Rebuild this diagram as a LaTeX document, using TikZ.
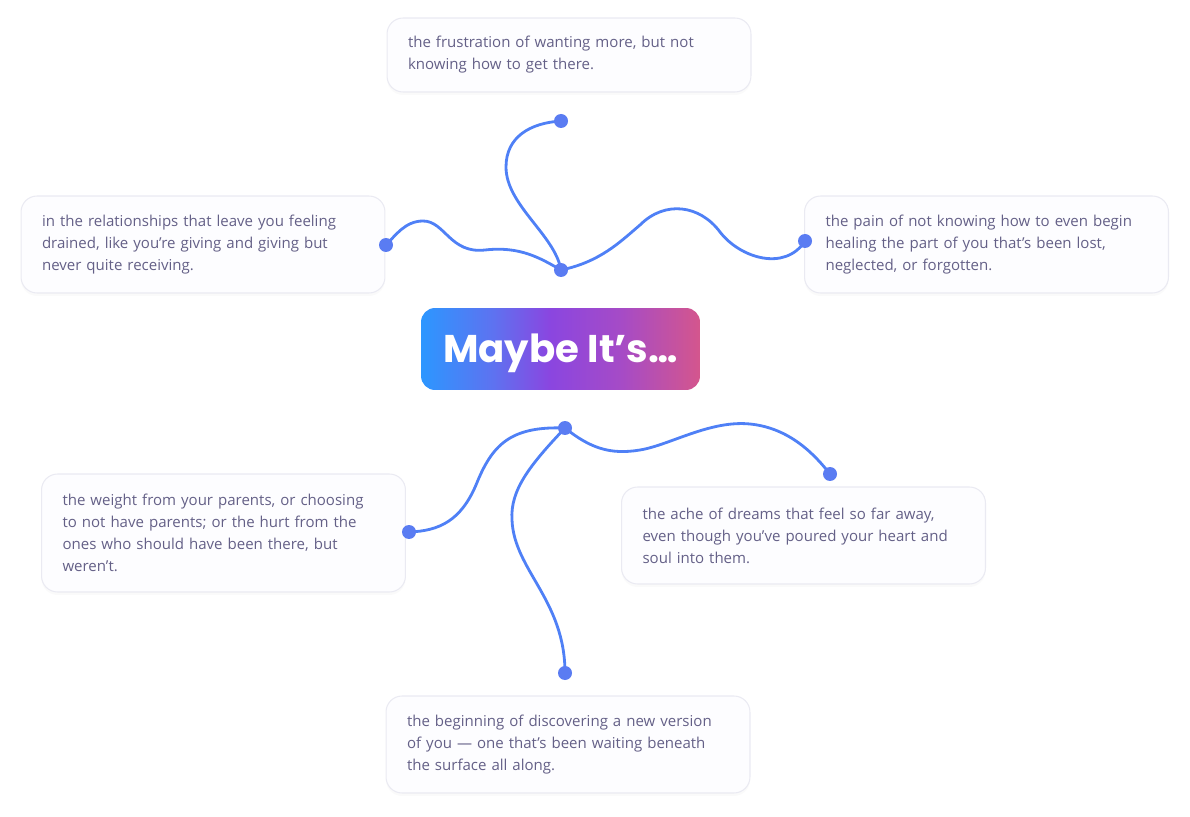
\documentclass[tikz,border=0pt]{standalone}
\usepackage{fontspec}
\setmainfont{Open Sans}
\newfontfamily\titlefont{Poppins}
\usetikzlibrary{backgrounds,shadows}
\definecolor{inkgray}{HTML}{646087}
\definecolor{boxline}{HTML}{EAEAF2}
\definecolor{boxfill}{HTML}{FDFDFF}
\definecolor{wire}{HTML}{4F80F6}
\definecolor{dotblue}{HTML}{5A7CF2}
\definecolor{gradA}{HTML}{2C97FF}
\definecolor{gradB}{HTML}{5E72F0}
\definecolor{gradC}{HTML}{8A46E0}
\definecolor{gradD}{HTML}{A64BC6}
\definecolor{gradE}{HTML}{D4568D}
\pgfdeclarehorizontalshading{maybeshade}{100bp}{color(0bp)=(gradA); color(25bp)=(gradA);
  color(38bp)=(gradB); color(48bp)=(gradC); color(61bp)=(gradD); color(75bp)=(gradE); color(100bp)=(gradE)}
\tikzset{
  textbox/.style={draw=boxline,fill=boxfill,rounded corners=0.32cm,line width=0.6pt,
    text width=6.44cm,inner xsep=0.42cm,align=left,text=inkgray,
    font=\fontsize{8.55}{12.47}\selectfont,
    drop shadow={opacity=0.04,shadow xshift=0pt,shadow yshift=-0.06cm}},
  enddot/.style={circle,fill=dotblue,minimum size=0.28cm,inner sep=0pt},
  wirecurve/.style={draw=wire,line width=1.6pt},
  every picture/.style={line cap=round,line join=round}
}
\begin{document}
\begin{tikzpicture}[x=0.02cm,y=-0.02cm]
  \useasboundingbox (0,0) rectangle (1190,817);
  % centre label
  \node[rounded corners=0.28cm,shading=maybeshade,minimum width=5.58cm,minimum height=1.64cm,
        text height=15.5pt,text depth=0pt,
        text=white,font=\titlefont\bfseries\fontsize{22}{26}\selectfont] (maybe) at (560.5,349) {Maybe It’s…};

  % text boxes
  \node[textbox,minimum height=1.48cm] (top) at (569,55)
    {the frustration of wanting more, but not\\knowing how to get there.};
  \node[textbox,minimum height=1.94cm] (lft) at (203,244.5)
    {in the relationships that leave you feeling\\drained, like you’re giving and giving but\\never quite receiving.};
  \node[textbox,minimum height=1.94cm] (rgt) at (986.5,244.5)
    {the pain of not knowing how to even begin\\healing the part of you that’s been lost,\\neglected, or forgotten.};
  \node[textbox,minimum height=2.36cm] (bl) at (223.5,533)
    {the weight from your parents, or choosing\\to not have parents; or the hurt from the\\ones who should have been there, but\\weren’t.};
  \node[textbox,minimum height=1.94cm] (br) at (803.5,535.5)
    {the ache of dreams that feel so far away,\\even though you’ve poured your heart and\\soul into them.};
  \node[textbox,minimum height=1.94cm] (bot) at (568,744.5)
    {the beginning of discovering a new version\\of you — one that’s been waiting beneath\\the surface all along.};

  % dots
  \node[enddot] (hu) at (561,270) {};
  \node[enddot] (hd) at (565,428) {};
  \node[enddot] (du) at (561,121) {};
  \node[enddot] (dl) at (386,245) {};
  \node[enddot] (dr) at (805,241) {};
  \node[enddot] (dbl) at (409,532) {};
  \node[enddot] (dbr) at (830,474) {};
  \node[enddot] (db) at (565,673) {};

  % wavy connectors
  \begin{scope}[on background layer]
    \draw[wirecurve] (hu.center) .. controls (555,235) and (506,205) .. (506,167)
                     .. controls (506,137) and (530,123) .. (du.center);
    \draw[wirecurve] (hu.center) .. controls (540,258) and (520,246) .. (485,250)
                     .. controls (450,254) and (445,221) .. (423,221)
                     .. controls (405,221) and (395,236) .. (dl.center);
    \draw[wirecurve] (hu.center) .. controls (600,262) and (620,242) .. (640,225)
                     .. controls (665,200) and (700,205) .. (720,232)
                     .. controls (740,258) and (785,272) .. (dr.center);
    \draw[wirecurve] (hd.center) .. controls (510,426) and (492,445) .. (476,485)
                     .. controls (461,520) and (440,531) .. (dbl.center);
    \draw[wirecurve] (hd.center) .. controls (530,465) and (510,490) .. (512,520)
                     .. controls (514,570) and (565,600) .. (db.center);
    \draw[wirecurve] (hd.center) .. controls (590,448) and (610,455) .. (640,450)
                     .. controls (670,445) and (710,420) .. (750,424)
                     .. controls (790,428) and (815,455) .. (dbr.center);
  \end{scope}
\end{tikzpicture}
\end{document}
